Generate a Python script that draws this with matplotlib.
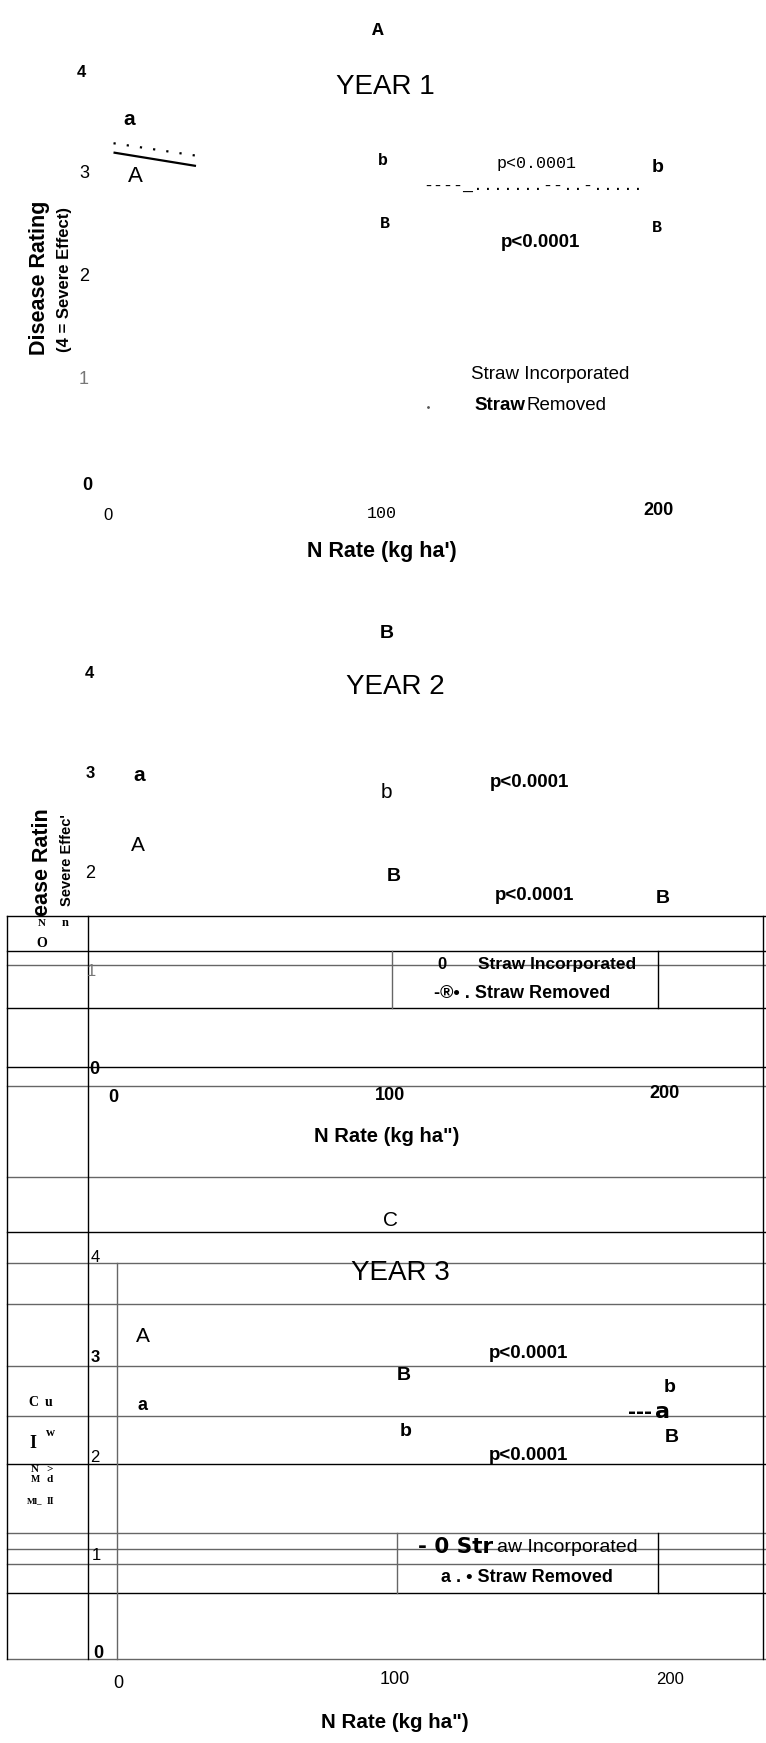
import matplotlib
matplotlib.use('Agg')
import matplotlib.pyplot as plt
from matplotlib import font_manager as fm

# ---------------- data ----------------
panel_letters = ['A', 'B', 'C']
year_titles = ['YEAR 1', 'YEAR 2', 'YEAR 3']
rating_ticks = ['0', '1', '2', '3', '4']
n_rate_ticks = ['0', '100', '200']
x_label_1 = "N Rate (kg ha')"
x_label_23 = 'N Rate (kg ha")'
y_label = 'Disease Rating'
y_sublabel = '(4 = Severe Effect)'
p_text = 'p<0.0001'
legend_inc = 'Straw Incorporated'
legend_rem = 'Removed'

# Year 1 fragments of the two response lines (N rate, disease rating)
year1_n = [2, 32]
year1_incorporated = [3.31, 3.19]   # dotted
year1_removed = [3.22, 3.09]        # solid

# ---------------- layout ----------------
W, H = 766, 1743
fig = plt.figure(figsize=(W / 100, H / 100), dpi=100)
fig.patch.set_facecolor('white')

names = {f.name for f in fm.fontManager.ttflist}
NARROW = 'Liberation Sans Narrow' if 'Liberation Sans Narrow' in names else 'Liberation Sans'
SANS = 'Liberation Sans'
MONO = 'Liberation Mono'
SERIF = 'Liberation Serif'

ov = fig.add_axes([0, 0, 1, 1])
ov.set_xlim(0, W)
ov.set_ylim(H, 0)
ov.axis('off')


def T(x, y, s, size=13, weight='normal', family=NARROW, color='black', rot=0, ha='center', va='center'):
    ov.text(x, y, s, fontsize=size, fontweight=weight, family=family, color=color,
            rotation=rot, ha=ha, va=va)


# Panel A data axes (x 0..200 -> px 108..658, y 0..4 -> px 485..72)
axA = fig.add_axes([108 / W, 1 - 485 / H, 550 / W, 413 / H])
axA.set_xlim(0, 200)
axA.set_ylim(0, 4)
axA.axis('off')
axA.plot(year1_n, year1_removed, color='black', lw=1.6, solid_capstyle='butt')
axA.plot(year1_n, year1_incorporated, color='black', lw=1.6, linestyle=(0, (1, 5)))

# ---------------- table lines (scan artefacts) ----------------
h_lines = [(916, 'k'), (951, 'k'), (965, '#666'), (1008, 'k'), (1067, 'k'), (1086, '#666'),
           (1177, '#666'), (1232, 'k'), (1263, '#666'), (1304, '#666'), (1366, '#666'),
           (1416, '#666'), (1464, 'k'), (1533, '#666'), (1549, '#666'), (1564, '#666'),
           (1593, 'k'), (1659, '#666')]
for y, c in h_lines:
    ov.plot([7, 766], [y, y], color=c, lw=1.0)
v_lines = [(7, 916, 1659, 'k'), (88, 916, 1659, 'k'), (117, 1263, 1659, '#666'),
           (392, 951, 1008, '#666'), (658, 951, 1008, 'k'),
           (397, 1533, 1593, '#666'), (658, 1533, 1593, 'k'), (763, 916, 1659, 'k')]
for x, y0, y1, c in v_lines:
    ov.plot([x, x], [y0, y1], color=c, lw=1.0)

# ---------------- Panel A ----------------
T(378, 30, panel_letters[0], 14, 'bold', MONO)
T(385, 87, year_titles[0], 20)
T(81, 72, rating_ticks[4], 12, 'bold')
T(84, 173, rating_ticks[3], 13)
T(84, 276, rating_ticks[2], 13)
T(84, 379, rating_ticks[1], 13, color='#777')
T(87, 485, rating_ticks[0], 13, 'bold')
T(129, 119, 'a', 15, 'bold')
T(135, 176, 'A', 16)
T(383, 160, 'b', 12, 'bold', MONO)
T(537, 163, p_text, 12, 'normal', MONO)
T(658, 167, 'b', 14, 'bold')
ov.text(533, 191, '----_.......--..-.....', fontsize=12, family=MONO, ha='center', va='baseline')
T(385, 223, 'B', 12, 'bold', MONO)
T(657, 227, 'B', 12, 'bold', MONO)
T(541, 242, p_text, 13.5, 'bold')
T(550, 374, legend_inc, 13.5)
ov.text(474, 405, 'Straw', fontsize=13.5, fontweight='bold', family=NARROW, ha='left', va='center')
ov.text(527, 405, legend_rem, fontsize=13.5, family=NARROW, ha='left', va='center')
ov.plot([428], [407], marker='.', color='#555', ms=2)
T(108, 516, n_rate_ticks[0], 12)
T(382, 514, n_rate_ticks[1], 12, 'normal', MONO)
T(658, 510, n_rate_ticks[2], 13, 'bold')
T(382, 551, x_label_1, 15.5, 'bold')
T(40, 278, y_label, 15.5, 'bold', SANS, rot=90)
T(65, 279, y_sublabel, 12, 'bold', SANS, rot=90)

# ---------------- Panel B ----------------
T(387, 634, panel_letters[1], 14, 'bold')
T(395, 687, year_titles[1], 20)
T(89, 673, rating_ticks[4], 12, 'bold')
T(90, 773, rating_ticks[3], 12, 'bold')
T(139, 775, 'a', 15, 'bold')
T(386, 792, 'b', 15)
T(530, 782, p_text, 13.5, 'bold')
T(138, 845, 'A', 15)
T(90, 873, rating_ticks[2], 13)
T(394, 876, 'B', 14, 'bold')
T(535, 895, p_text, 13.5, 'bold')
T(663, 898, 'B', 14, 'bold')
T(91, 971, rating_ticks[1], 12, color='#777')
T(94, 1069, rating_ticks[0], 13, 'bold')
T(442, 964, '0', 12, 'bold')
T(557, 964, legend_inc, 12.5, 'bold')
T(522, 993, '-®• . Straw Removed', 13, 'bold')
T(113, 1097, n_rate_ticks[0], 13, 'bold')
T(390, 1095, n_rate_ticks[1], 13, 'bold')
T(665, 1093, n_rate_ticks[2], 13, 'bold')
T(387, 1136, x_label_23, 14.5, 'bold')
T(42, 862, 'ease Ratin', 15.5, 'bold', SANS, rot=90)
T(67, 860, 'Severe Effec\'', 10.5, 'bold', SANS, rot=90)
T(42, 923, 'N', 8, 'bold', SERIF)
T(65, 923, 'n', 9, 'bold', SERIF)
T(42, 943, 'O', 10, 'bold', SERIF)

# ---------------- Panel C ----------------
T(391, 1220, panel_letters[2], 15)
T(95, 1257, rating_ticks[4], 12)
T(400, 1273, year_titles[2], 20)
T(143, 1337, 'A', 15)
T(95, 1357, rating_ticks[3], 12, 'bold')
T(529, 1353, p_text, 13.5, 'bold')
T(404, 1376, 'B', 14, 'bold')
T(670, 1387, 'b', 14, 'bold')
T(142, 1405, 'a', 13, 'bold')
ov.text(628, 1412, '---', fontsize=14, fontweight='bold', family='DejaVu Sans', ha='left', va='center')
ov.text(655, 1412, 'a', fontsize=16, fontweight='bold', family='DejaVu Sans', ha='left', va='center')
T(406, 1432, 'b', 14, 'bold')
T(672, 1438, 'B', 14, 'bold')
T(95, 1457, rating_ticks[2], 12)
T(529, 1456, p_text, 13.5, 'bold')
T(96, 1555, rating_ticks[1], 12)
T(98, 1653, rating_ticks[0], 13, 'bold')
ov.text(418, 1547, '- 0 Str', fontsize=15.5, fontweight='bold', family='DejaVu Sans', ha='left', va='center')
ov.text(497, 1548, 'aw Incorporated', fontsize=14, family=NARROW, ha='left', va='center')
T(527, 1578, 'a . • Straw Removed', 13, 'bold')
T(118, 1683, n_rate_ticks[0], 13)
T(395, 1679, n_rate_ticks[1], 13)
T(670, 1679, n_rate_ticks[2], 12)
T(395, 1723, x_label_23, 14.8, 'bold')
# garbled rotated label fragments
T(33, 1403, 'C', 10, 'bold', SERIF)
T(49, 1403, 'u', 10, 'bold', SERIF)
T(50, 1433, 'w', 9, 'bold', SERIF)
T(33, 1443, 'I', 13, 'bold', SERIF)
T(35, 1469, 'N', 8, 'bold', SERIF)
T(50, 1469, '>', 8, 'bold', SERIF)
T(35, 1479, 'M', 7, 'bold', SERIF)
T(50, 1479, 'd', 8, 'bold', SERIF)
T(35, 1501, 'Ml_', 6.5, 'bold', SERIF)
T(50, 1501, 'II', 7, 'bold', SERIF)

fig.savefig('out.png', dpi=100, facecolor='white')
